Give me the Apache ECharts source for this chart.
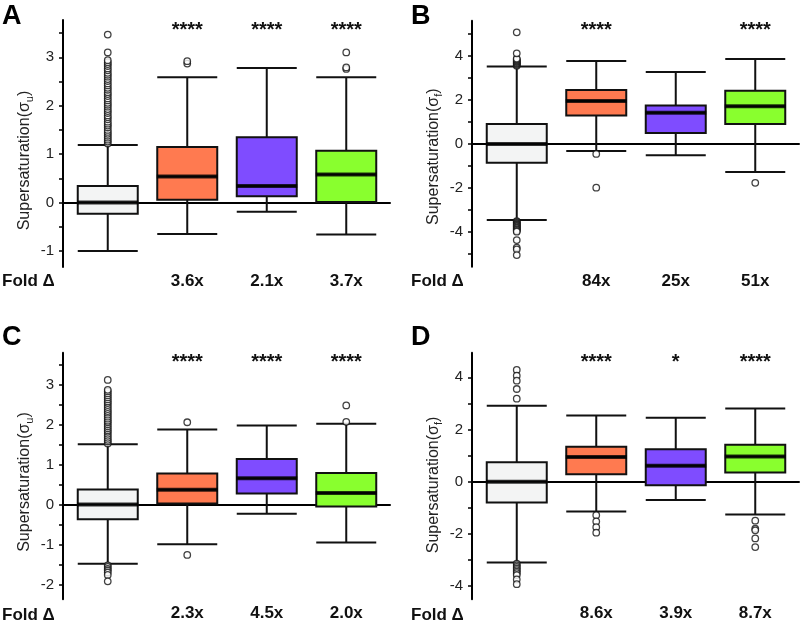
<!DOCTYPE html>
<html><head><meta charset="utf-8">
<script src="https://cdn.jsdelivr.net/npm/echarts@6/dist/echarts.min.js"></script>
<style>html,body{margin:0;padding:0;background:#fff}#c{width:802px;height:627px}</style>
</head><body><div id="c"></div>
<script>
// ---------------- DATA ----------------
const groups = ['Control', 'Group 1', 'Group 2', 'Group 3'];

// box stats: [lower whisker, Q1, median, Q3, upper whisker]
const boxA = [
  [-1.00, -0.23, 0.00, 0.34, 1.19],
  [-0.65, 0.06, 0.54, 1.15, 2.59],
  [-0.19, 0.13, 0.34, 1.35, 2.78],
  [-0.66, 0.01, 0.58, 1.07, 2.59]
];
const outliersA = [
  [1.22, 1.26, 1.30, 1.34, 1.38, 1.42, 1.46, 1.50, 1.55, 1.59, 1.63, 1.67, 1.72, 1.76, 1.80, 1.85,
   1.89, 1.93, 1.98, 2.02, 2.06, 2.11, 2.15, 2.20, 2.24, 2.28, 2.33, 2.37, 2.42, 2.46, 2.51, 2.55,
   2.60, 2.64, 2.68, 2.73, 2.77, 2.82, 2.86, 2.90, 2.94, 3.10, 3.47],
  [2.87, 2.92],
  [],
  [2.76, 2.79, 3.10]
];
const foldA = ['', '3.6x', '2.1x', '3.7x'];
const starsA = ['', '****', '****', '****'];

const boxB = [
  [-3.45, -0.85, 0.00, 0.91, 3.52],
  [-0.32, 1.30, 1.95, 2.45, 3.77],
  [-0.51, 0.50, 1.42, 1.75, 3.27],
  [-1.27, 0.91, 1.72, 2.42, 3.86]
];
const outliersB = [
  [3.56, 3.60, 3.64, 3.68, 3.72, 3.76, 3.80, 3.84, 3.88, 4.12, 5.07,
   -3.50, -3.54, -3.58, -3.62, -3.66, -3.70, -3.74, -3.78, -3.82, -3.86, -3.90, -3.94, -3.98,
   -4.36, -4.70, -4.78, -5.04],
  [-0.45, -1.98],
  [],
  [-1.76]
];
const foldB = ['', '84x', '25x', '51x'];
const starsB = ['', '****', '', '****'];

const boxC = [
  [-1.48, -0.37, 0.00, 0.38, 1.51],
  [-0.99, 0.03, 0.37, 0.78, 1.88],
  [-0.23, 0.28, 0.66, 1.14, 1.98],
  [-0.95, -0.05, 0.29, 0.79, 2.02]
];
const outliersC = [
  [1.53, 1.58, 1.62, 1.67, 1.72, 1.77, 1.82, 1.86, 1.91, 1.96, 2.01, 2.06, 2.10, 2.15, 2.20, 2.25,
   2.30, 2.34, 2.39, 2.44, 2.49, 2.54, 2.58, 2.63, 2.68, 2.73, 2.78, 2.83, 2.87, 3.12,
   -1.52, -1.56, -1.61, -1.65, -1.70, -1.76, -1.92],
  [2.06, -1.26],
  [],
  [2.48, 2.07]
];
const foldC = ['', '2.3x', '4.5x', '2.0x'];
const starsC = ['', '****', '****', '****'];

const boxD = [
  [-3.09, -0.79, 0.00, 0.75, 2.91],
  [-1.14, 0.29, 0.95, 1.34, 2.54],
  [-0.70, -0.13, 0.61, 1.24, 2.45],
  [-1.25, 0.35, 0.97, 1.42, 2.80]
];
const outliersD = [
  [4.28, 4.06, 3.87, 3.55, 3.18,
   -3.14, -3.20, -3.26, -3.32, -3.38, -3.44, -3.50, -3.57, -3.74, -3.92],
  [-1.28, -1.52, -1.74, -1.95],
  [],
  [-1.49, -1.80, -1.86, -2.17, -2.50]
];
const foldD = ['', '8.6x', '3.9x', '8.7x'];
const starsD = ['', '****', '*', '****'];

// axis ranges and tick values
const rangeA = [-1.33, 3.77], labelsA = [-1, 0, 1, 2, 3], ticksA = [-1, -0.5, 0, 0.5, 1, 1.5, 2, 2.5, 3, 3.5];
const rangeB = [-5.57, 5.6], labelsB = [-4, -2, 0, 2, 4], ticksB = [-5, -4, -3, -2, -1, 0, 1, 2, 3, 4, 5];
const rangeC = [-2.37, 3.8], labelsC = [-2, -1, 0, 1, 2, 3], ticksC = [-2, -1.5, -1, -0.5, 0, 0.5, 1, 1.5, 2, 2.5, 3, 3.5];
const rangeD = [-4.5, 4.94], labelsD = [-4, -2, 0, 2, 4], ticksD = [-4, -3, -2, -1, 0, 1, 2, 3, 4];

// ---------------- STYLE / LAYOUT ----------------
const FONT = 'Liberation Sans, Arial, Helvetica, sans-serif';
const COLORS = ['#f3f4f4', '#ff7a50', '#7f4cff', '#89ff2e'];

const panels = [
  {letter: 'A', box: boxA, out: outliersA, fold: foldA, stars: starsA, sub: 'u', range: rangeA, labels: labelsA, ticks: ticksA,
   x: 63, y: 20, h: 247, letterY: 16.5, foldY: 281.7, nameShift: 34},
  {letter: 'B', box: boxB, out: outliersB, fold: foldB, stars: starsB, sub: 'f', range: rangeB, labels: labelsB, ticks: ticksB,
   x: 472, y: 20.7, h: 246, letterY: 16.5, foldY: 281.7, nameShift: 26},
  {letter: 'C', box: boxC, out: outliersC, fold: foldC, stars: starsC, sub: 'u', range: rangeC, labels: labelsC, ticks: ticksC,
   x: 63, y: 352.7, h: 246.6, letterY: 338, foldY: 615, nameShift: 12},
  {letter: 'D', box: boxD, out: outliersD, fold: foldD, stars: starsD, sub: 'f', range: rangeD, labels: labelsD, ticks: ticksD,
   x: 472, y: 352.7, h: 246.6, letterY: 338, foldY: 615, nameShift: 18}
];

const option = {animation: false, grid: [], xAxis: [], yAxis: [], series: [], graphic: []};

panels.forEach(function (p) {
  const gA = option.grid.length;
  option.grid.push({left: p.x, top: p.y, width: 327, height: p.h});
  option.grid.push({left: p.x + 5, top: p.y, width: 318, height: p.h});

  // axis grid: zero line + y axis
  option.xAxis.push({type: 'value', gridIndex: gA, min: 0, max: 1,
    axisLine: {show: true, onZero: true, lineStyle: {color: '#000', width: 2}},
    axisTick: {show: false}, axisLabel: {show: false}, splitLine: {show: false}});
  const xBottom = option.xAxis.length;
  option.xAxis.push({type: 'category', gridIndex: gA + 1, data: groups, position: 'bottom',
    axisLine: {show: false}, axisTick: {show: false}, splitLine: {show: false},
    axisLabel: {interval: 0, margin: 6, fontSize: 17, fontWeight: 'bold', color: '#111', fontFamily: FONT,
      formatter: function (v, idx) { return p.fold[idx]; }}});
  option.xAxis.push({type: 'category', gridIndex: gA + 1, data: groups, position: 'top',
    axisLine: {show: false}, axisTick: {show: false}, splitLine: {show: false},
    axisLabel: {inside: true, interval: 0, margin: 0, fontSize: 20, fontWeight: 'bold', color: '#111', fontFamily: FONT,
      formatter: function (v, idx) { return p.stars[idx]; }}});

  option.yAxis.push({type: 'value', gridIndex: gA, min: p.range[0], max: p.range[1],
    axisLine: {show: true, onZero: false, lineStyle: {color: '#000', width: 2}},
    axisTick: {show: true, length: 4, customValues: p.ticks, lineStyle: {color: '#000', width: 1.5}},
    axisLabel: {customValues: p.labels, margin: 9, fontSize: 15, color: '#222', fontFamily: FONT},
    splitLine: {show: false},
    name: '{a|Supersaturation(}{a|σ}{c|' + p.sub + '}{a|)}',
    nameLocation: 'middle', nameGap: 28,
    nameTextStyle: {fontSize: 16, color: '#222', fontFamily: FONT, padding: [0, p.nameShift, 0, 0],
      rich: {a: {fontSize: 16, color: '#222', fontFamily: FONT, lineHeight: 20},
             c: {fontSize: 11, color: '#222', fontFamily: FONT, lineHeight: 12, verticalAlign: 'bottom'}}}});
  const yBox = option.yAxis.length;
  option.yAxis.push({type: 'value', gridIndex: gA + 1, min: p.range[0], max: p.range[1], show: false});

  option.series.push({type: 'boxplot', xAxisIndex: xBottom, yAxisIndex: yBox, boxWidth: [60, 60],
    data: p.box.map(function (b, i) {
      return {value: b, itemStyle: {color: COLORS[i], borderColor: '#111', borderWidth: 2}};
    }),
    emphasis: {disabled: true}, z: 3});
  option.series.push({type: 'scatter', xAxisIndex: xBottom, yAxisIndex: yBox, symbol: 'rect', symbolSize: [61, 4],
    data: p.box.map(function (b, i) { return [i, b[2]]; }),
    itemStyle: {color: '#000'}, emphasis: {disabled: true}, z: 4});
  const outPts = [];
  p.out.forEach(function (arr, i) { arr.forEach(function (v) { outPts.push([i, v]); }); });
  option.series.push({type: 'scatter', xAxisIndex: xBottom, yAxisIndex: yBox, symbol: 'circle', symbolSize: 6.5,
    data: outPts, itemStyle: {color: '#fff', borderColor: '#111', borderWidth: 1.3},
    emphasis: {disabled: true}, z: 5});

  const lx = p.x < 200 ? 2 : 411;
  option.graphic.push({type: 'text', x: lx, y: p.letterY,
    style: {text: p.letter, font: 'bold 27px ' + FONT, fill: '#000', verticalAlign: 'middle'}});
  option.graphic.push({type: 'text', x: lx, y: p.foldY,
    style: {text: 'Fold Δ', font: 'bold 17px ' + FONT, fill: '#111', verticalAlign: 'middle'}});
});

const chart = echarts.init(document.getElementById('c'), null, {renderer: 'canvas'});
chart.setOption(option);
</script></body></html>
